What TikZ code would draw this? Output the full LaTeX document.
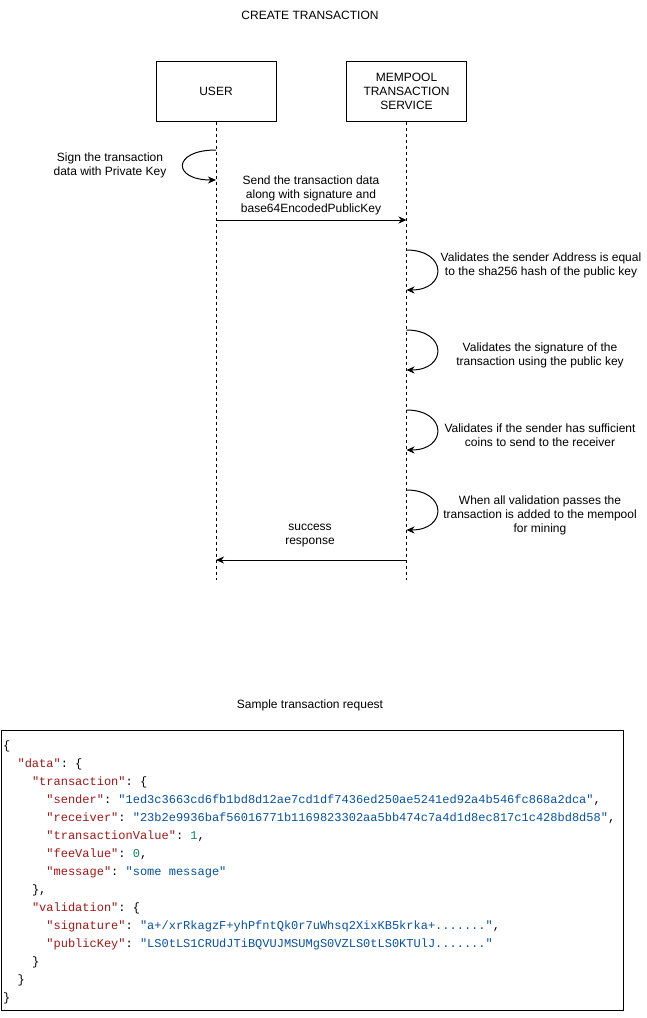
\documentclass[tikz,border=0pt]{standalone}
\usepackage{fontspec}
\setmainfont{Liberation Sans}
\setmonofont{Liberation Mono}
\usetikzlibrary{arrows.meta}
\definecolor{jkey}{HTML}{A31515}
\definecolor{jstr}{HTML}{0451A5}
\definecolor{jnum}{HTML}{098658}
\newcommand{\jsonkey}[1]{\textcolor{jkey}{"#1"}}
\newcommand{\jsonstr}[1]{\textcolor{jstr}{"#1"}}
\newcommand{\jsonnum}[1]{\textcolor{jnum}{#1}}
\begin{document}
\begin{tikzpicture}[x=1pt,y=-1pt,
  lbl/.style={font=\fontsize{12}{14}\selectfont, align=center, inner sep=0pt},
  actor/.style={draw, line width=1pt, minimum width=120pt, minimum height=60pt, align=center, font=\fontsize{12}{14}\selectfont},
  life/.style={line width=1pt, dash pattern=on 3pt off 3pt},
  msg/.style={line width=1pt, -{Stealth[length=8pt,width=7pt,inset=2.5pt]}},
  jline/.style={font=\fontsize{12}{14}\ttfamily, anchor=base west, inner sep=0pt}
]
\useasboundingbox (0,0) rectangle (646,1018);

% title
\node[lbl] (title) at (310,15) {CREATE TRANSACTION};

% actors
\node[actor] (user) at (216,91) {USER};
\node[actor] (mem) at (406.5,91) {MEMPOOL\\TRANSACTION\\SERVICE};

% lifelines
\coordinate (uend) at (216,580);
\coordinate (mend) at (406.5,580);
\draw[life] (user.south) -- (uend);
\draw[life] (mem.south) -- (mend);

% user self loop
\coordinate (us1) at (216,150);
\coordinate (us2) at (216,180);
\draw[msg] (us1) .. controls +(-44,0) and +(-44,0) .. (us2);
\node[lbl] (signlbl) at (110,165.5) {Sign the transaction\\data with Private Key};

% send message
\coordinate (ms0) at (216,220);
\coordinate (mm0) at (406.5,220);
\draw[msg] (ms0) -- (mm0);
\node[lbl] (sendlbl) at (311,195) {Send the transaction data\\along with signature and\\base64EncodedPublicKey};

% mempool self loops
\coordinate (a1) at (406.5,250);
\coordinate (b1) at (406.5,290);
\draw[msg] (a1) .. controls +(41,0) and +(41,0) .. (b1);
\node[lbl] (v1) at (541,265.5) {Validates the sender Address is equal\\to the sha256 hash of the public key};

\coordinate (a2) at (406.5,330);
\coordinate (b2) at (406.5,370);
\draw[msg] (a2) .. controls +(41,0) and +(41,0) .. (b2);
\node[lbl] (v2) at (540,355.5) {Validates the signature of the\\transaction using the public key};

\coordinate (a3) at (406.5,410);
\coordinate (b3) at (406.5,450);
\draw[msg] (a3) .. controls +(41,0) and +(41,0) .. (b3);
\node[lbl] (v3) at (540,435.5) {Validates if the sender has sufficient\\coins to send to the receiver};

\coordinate (a4) at (406.5,490);
\coordinate (b4) at (406.5,530);
\draw[msg] (a4) .. controls +(41,0) and +(41,0) .. (b4);
\node[lbl] (v4) at (540,515.5) {When all validation passes the\\transaction is added to the mempool\\for mining};

% response
\coordinate (mr) at (406.5,560);
\coordinate (ur) at (216,560);
\draw[msg] (mr) -- (ur);
\node[lbl] (resp) at (310,535.5) {success\\response};

% sample request
\node[lbl] (sample) at (310,705) {Sample transaction request};
\node[draw, line width=1pt, minimum width=622pt, minimum height=280pt, inner sep=0pt] (jbox) at (312,870) {};

\node[jline] (j0) at (3,749) {\{};
\node[jline] (j1) at (17.4,767) {\jsonkey{data}: \{};
\node[jline] (j2) at (31.8,785) {\jsonkey{transaction}: \{};
\node[jline] (j3) at (46.2,803) {\jsonkey{sender}: \jsonstr{1ed3c3663cd6fb1bd8d12ae7cd1df7436ed250ae5241ed92a4b546fc868a2dca},};
\node[jline] (j4) at (46.2,821) {\jsonkey{receiver}: \jsonstr{23b2e9936baf56016771b1169823302aa5bb474c7a4d1d8ec817c1c428bd8d58},};
\node[jline] (j5) at (46.2,839) {\jsonkey{transactionValue}: \jsonnum{1},};
\node[jline] (j6) at (46.2,857) {\jsonkey{feeValue}: \jsonnum{0},};
\node[jline] (j7) at (46.2,875) {\jsonkey{message}: \jsonstr{some message}};
\node[jline] (j8) at (31.8,893) {\},};
\node[jline] (j9) at (31.8,911) {\jsonkey{validation}: \{};
\node[jline] (j10) at (46.2,929) {\jsonkey{signature}: \jsonstr{a+/xrRkagzF+yhPfntQk0r7uWhsq2XixKB5krka+.......},};
\node[jline] (j11) at (46.2,947) {\jsonkey{publicKey}: \jsonstr{LS0tLS1CRUdJTiBQVUJMSUMgS0VZLS0tLS0KTUlJ.......}};
\node[jline] (j12) at (31.8,965) {\}};
\node[jline] (j13) at (17.4,983) {\}};
\node[jline] (j14) at (3,1001) {\}};
\end{tikzpicture}
\end{document}
